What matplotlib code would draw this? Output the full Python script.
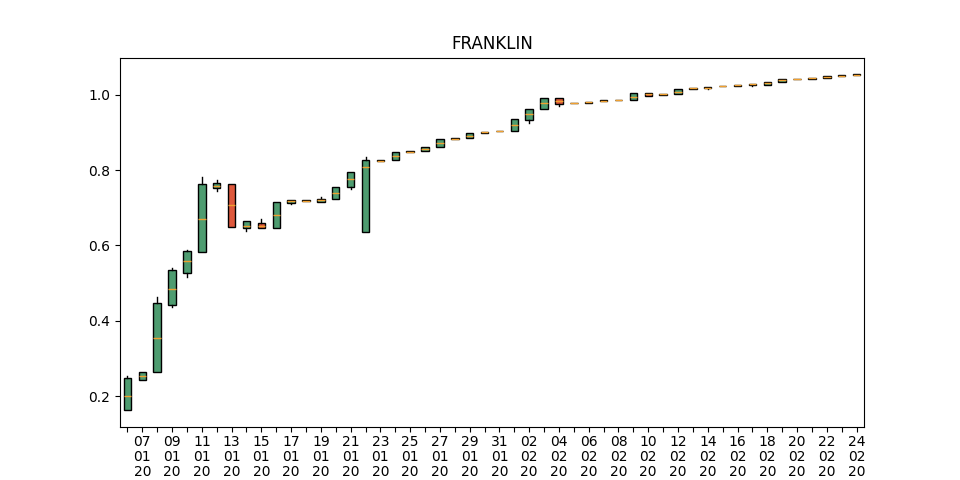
import matplotlib
matplotlib.use("Agg")
import matplotlib.pyplot as plt
import pandas as pd

# one candle per day, 6 Jan 2020 .. 24 Feb 2020
DATES = pd.date_range("2020-01-06", periods=50, freq="D")

OPEN = [0.162, 0.244, 0.263, 0.441, 0.526, 0.582, 0.752, 0.763, 0.646, 0.659,
        0.645, 0.713, 0.718, 0.716, 0.723, 0.754, 0.635, 0.824, 0.826, 0.848,
        0.850, 0.862, 0.882, 0.885, 0.899, 0.9025, 0.905, 0.933, 0.962, 0.991,
        0.978, 0.979, 0.983, 0.986, 0.987, 1.005, 1.000, 1.001, 1.016, 1.018,
        1.022, 1.024, 1.0265, 1.026, 1.0345, 1.042, 1.043, 1.044, 1.0495, 1.052]
CLOSE = [0.247, 0.263, 0.446, 0.535, 0.585, 0.763, 0.765, 0.648, 0.665, 0.645,
         0.715, 0.721, 0.720, 0.724, 0.755, 0.795, 0.826, 0.826, 0.848, 0.850,
         0.861, 0.882, 0.884, 0.898, 0.901, 0.9045, 0.935, 0.962, 0.991, 0.975,
         0.978, 0.9805, 0.985, 0.986, 1.004, 0.997, 1.002, 1.015, 1.018, 1.020,
         1.024, 1.026, 1.0285, 1.034, 1.0425, 1.042, 1.045, 1.049, 1.0515, 1.054]
LOW = [0.162, 0.244, 0.263, 0.436, 0.515, 0.582, 0.744, 0.648, 0.639, 0.645,
       0.645, 0.709, 0.718, 0.714, 0.723, 0.750, 0.635, 0.824, 0.826, 0.848,
       0.850, 0.862, 0.882, 0.885, 0.899, 0.9025, 0.9025, 0.924, 0.962, 0.969,
       0.978, 0.979, 0.983, 0.986, 0.987, 0.997, 1.000, 1.001, 1.016, 1.014,
       1.022, 1.024, 1.023, 1.026, 1.0345, 1.042, 1.043, 1.044, 1.0495, 1.052]
HIGH = [0.254, 0.263, 0.462, 0.540, 0.588, 0.781, 0.773, 0.763, 0.665, 0.670,
        0.715, 0.721, 0.720, 0.728, 0.755, 0.795, 0.834, 0.826, 0.848, 0.850,
        0.861, 0.882, 0.884, 0.898, 0.901, 0.9045, 0.935, 0.962, 0.991, 0.991,
        0.978, 0.9805, 0.985, 0.986, 1.004, 1.005, 1.002, 1.015, 1.018, 1.020,
        1.024, 1.026, 1.0285, 1.034, 1.0425, 1.042, 1.045, 1.049, 1.0515, 1.054]
MED = [0.200, 0.254, 0.353, 0.484, 0.559, 0.670, 0.758, 0.706, 0.652, 0.652,
       0.681, 0.717, 0.719, 0.720, 0.739, 0.776, 0.809, 0.825, 0.837, 0.849,
       0.855, 0.872, 0.883, 0.891, 0.900, 0.9035, 0.920, 0.949, 0.977, 0.983,
       0.978, 0.980, 0.984, 0.986, 0.995, 1.001, 1.001, 1.008, 1.017, 1.019,
       1.023, 1.025, 1.0275, 1.030, 1.0385, 1.042, 1.044, 1.0465, 1.0505, 1.053]

UP = "#4e9c70"
DOWN = "#de583c"

stats = []
for o, c, lo, hi, m in zip(OPEN, CLOSE, LOW, HIGH, MED):
    stats.append({"med": m, "q1": min(o, c), "q3": max(o, c),
                  "whislo": lo, "whishi": hi, "fliers": []})

fig, ax = plt.subplots(figsize=(9.6, 4.8), dpi=100)
positions = list(range(1, len(stats) + 1))
bp = ax.bxp(stats, positions=positions, widths=0.5, patch_artist=True,
            showcaps=False, showfliers=False,
            boxprops=dict(edgecolor="black", linewidth=1),
            whiskerprops=dict(color="black", linewidth=1),
            medianprops=dict(color="#f0a030", linewidth=1))
for box, o, c in zip(bp["boxes"], OPEN, CLOSE):
    box.set_facecolor(UP if c >= o else DOWN)

# every other day labelled, as day / month / year
labels = [d.strftime("%d\n%m\n%y") if i % 2 == 1 else "" for i, d in enumerate(DATES)]
ax.set_xticks(positions)
ax.set_xticklabels(labels, linespacing=1.08)
ax.tick_params(axis="x", pad=2)
ax.set_xlim(0.5, len(stats) + 0.5)
ax.set_title("FRANKLIN")

fig.savefig("out.png", dpi=100)
